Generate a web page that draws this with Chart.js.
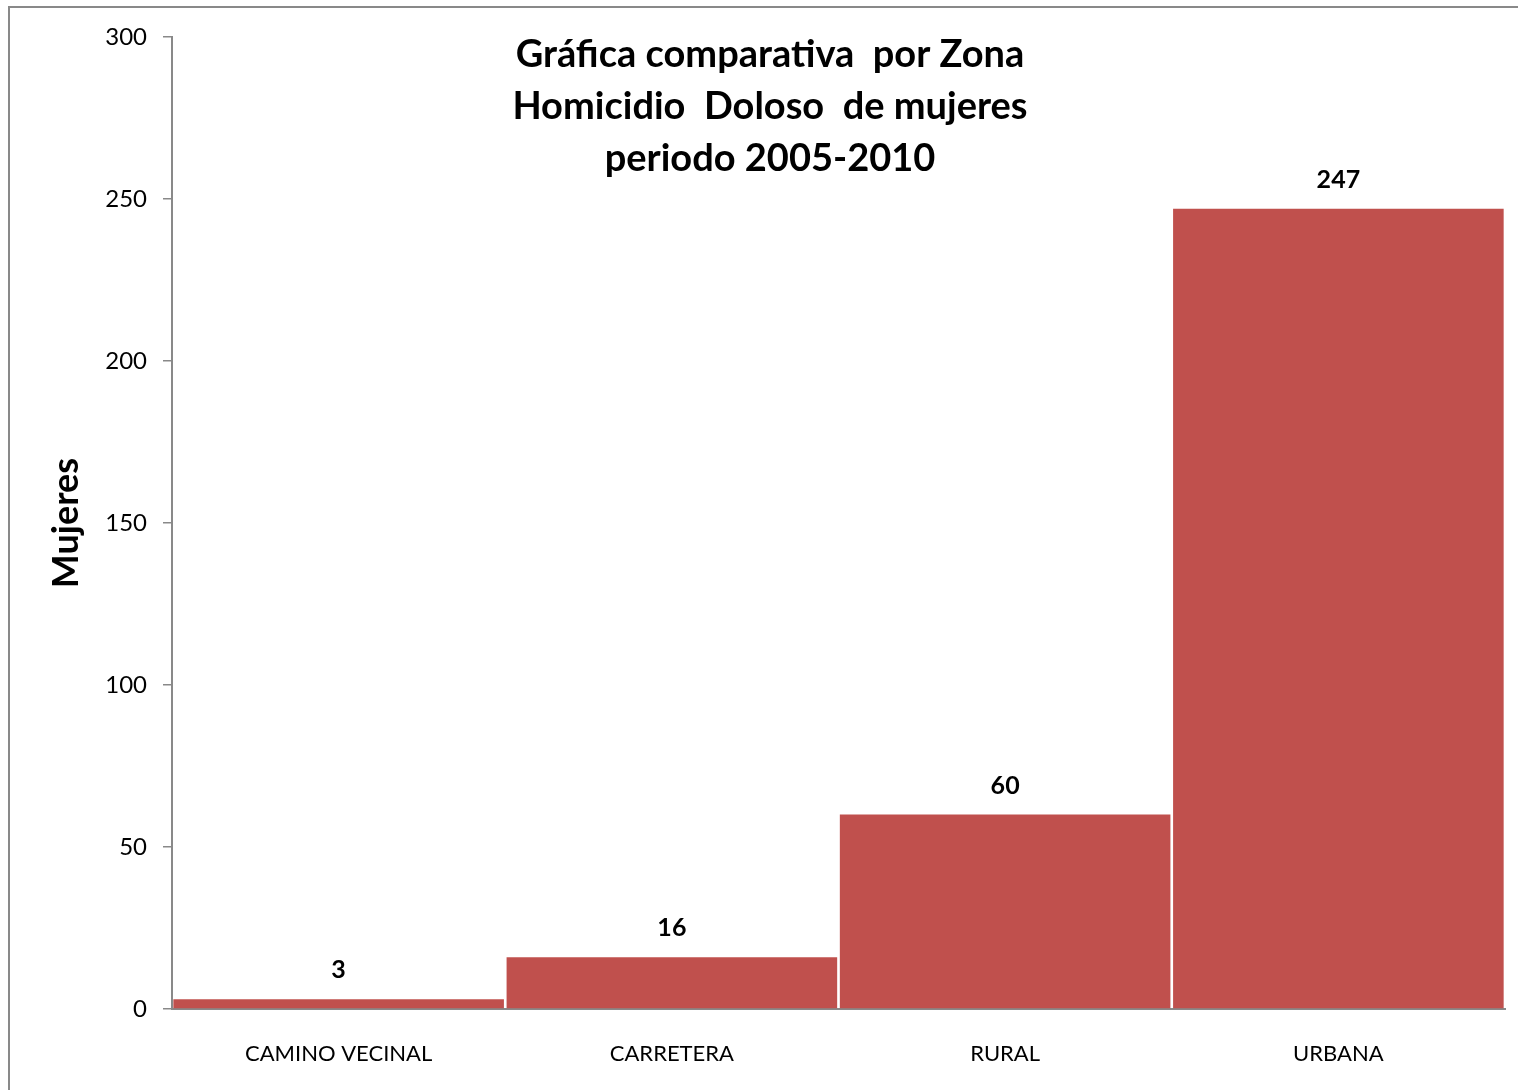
<!DOCTYPE html>
<html>
<head>
<meta charset="utf-8">
<script src="https://cdn.jsdelivr.net/npm/chart.js@4.4.1/dist/chart.umd.min.js"></script>
<style>
  html, body { margin: 0; padding: 0; background: #fff; }
  #wrap { position: relative; width: 1518px; height: 1090px; overflow: hidden; }
  #frame { position: absolute; left: 8px; top: 6px; width: 1600px; height: 1200px;
           border-left: 2px solid #898989; border-top: 2px solid #898989; }
  canvas { position: absolute; left: 0; top: 0; }
</style>
</head>
<body>
<div id="wrap">
  <div id="frame"></div>
  <canvas id="chart" width="1518" height="1090"></canvas>
</div>
<script>
// data
const zonas = ['CAMINO VECINAL', 'CARRETERA', 'RURAL', 'URBANA'];
const mujeres = [3, 16, 60, 247];
const titleLines = ['Gráfica comparativa  por Zona', 'Homicidio  Doloso  de mujeres', 'periodo 2005-2010'];
const yTitle = 'Mujeres';

const FONT = 'Lato';

// title sits inside the plot area, so draw it ourselves
const titleInside = {
  id: 'titleInside',
  afterDraw(chart) {
    const ctx = chart.ctx;
    ctx.save();
    ctx.fillStyle = '#000';
    ctx.font = 'bold 38px ' + FONT;
    ctx.textAlign = 'center';
    ctx.textBaseline = 'middle';
    titleLines.forEach((line, i) => {
      ctx.fillText(line, 770, 55 + i * 52);
    });
    ctx.restore();
  }
};

// value labels above each bar
const barLabels = {
  id: 'barLabels',
  afterDatasetsDraw(chart) {
    const ctx = chart.ctx;
    const meta = chart.getDatasetMeta(0);
    ctx.save();
    ctx.fillStyle = '#000';
    ctx.font = 'bold 25px ' + FONT;
    ctx.textAlign = 'center';
    ctx.textBaseline = 'middle';
    meta.data.forEach((bar, i) => {
      ctx.fillText(String(mujeres[i]), bar.x, bar.y - 29);
    });
    ctx.restore();
  }
};

const ctx = document.getElementById('chart').getContext('2d');
new Chart(ctx, {
  type: 'bar',
  data: {
    labels: zonas,
    datasets: [{
      data: mujeres,
      backgroundColor: '#C0504D',
      borderWidth: 0,
      barPercentage: 0.992,
      categoryPercentage: 1
    }]
  },
  options: {
    responsive: false,
    animation: false,
    devicePixelRatio: 1,
    layout: { padding: { top: 37, right: 13, left: 0, bottom: 0 } },
    plugins: {
      legend: { display: false },
      tooltip: { enabled: false },
      title: { display: false }
    },
    scales: {
      x: {
        grid: { display: false },
        border: { display: true, color: '#898989', width: 2 },
        ticks: { color: '#000', font: { family: FONT, size: 22 }, padding: 24, maxRotation: 0 },
        afterFit: (scale) => { scale.height = 81; }
      },
      y: {
        min: 0,
        max: 300,
        ticks: { stepSize: 50, color: '#000', font: { family: FONT, size: 24 }, padding: 16 },
        grid: { drawOnChartArea: false, drawTicks: true, tickLength: 9, color: '#898989', lineWidth: 1.5 },
        border: { display: true, color: '#898989', width: 2 },
        title: {
          display: true,
          text: yTitle,
          color: '#000',
          font: { family: FONT, size: 36, weight: 'bold' },
          padding: { top: 45, bottom: 0 }
        },
        afterFit: (scale) => { scale.width = 172; }
      }
    }
  },
  plugins: [titleInside, barLabels]
});
</script>
</body>
</html>
